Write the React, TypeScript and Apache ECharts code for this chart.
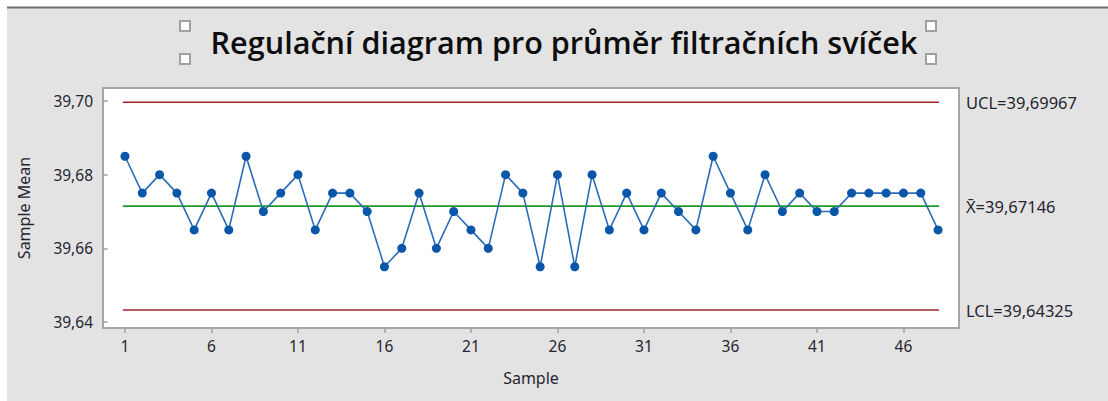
import React, { useEffect, useRef } from "react";
import * as echarts from "echarts";

const titleText = "Regulační diagram pro průměr filtračních svíček";
const sampleMeans = [
  39.685, 39.675, 39.68, 39.675, 39.665, 39.675, 39.665, 39.685, 39.67, 39.675,
  39.68, 39.665, 39.675, 39.675, 39.67, 39.655, 39.66, 39.675, 39.66, 39.67,
  39.665, 39.66, 39.68, 39.675, 39.655, 39.68, 39.655, 39.68, 39.665, 39.675,
  39.665, 39.675, 39.67, 39.665, 39.685, 39.675, 39.665, 39.68, 39.67, 39.675,
  39.67, 39.67, 39.675, 39.675, 39.675, 39.675, 39.675, 39.665,
];
const UCL = 39.69967;
const CL = 39.67146;
const LCL = 39.64325;
const limitStart = 0.88;
const limitEnd = 48.05;
const xTicks = [1, 6, 11, 16, 21, 26, 31, 36, 41, 46];
const yTicks = [39.64, 39.66, 39.68, 39.7];

const FONT = "'Noto Sans', 'Open Sans', sans-serif";
const TXT = "#262630";

export default function App() {
  const ref = useRef<HTMLDivElement>(null);
  useEffect(() => {
    if (!ref.current) return;
    const chart = echarts.init(ref.current, undefined, { renderer: "svg" });
    const fmt = (v: number) => v.toFixed(2).replace(".", ",");
    const limitSeries = (name: string, val: number, color: string, label: string) => ({
      name,
      type: "line",
      data: [
        [limitStart, val],
        [limitEnd, val],
      ],
      symbol: "none",
      lineStyle: { color, width: 1.6 },
      endLabel: {
        show: true,
        distance: 27,
        formatter: label,
        color: TXT,
        fontFamily: FONT,
        fontSize: 16.5,
      },
      z: 2,
      silent: true,
    });
    const sq = (x: number, y: number) => ({
      type: "rect",
      shape: { x, y, width: 10, height: 10 },
      style: { fill: "#ffffff", stroke: "#a0a0a0", lineWidth: 2 },
    });
    chart.setOption({
      animation: false,
      backgroundColor: "#ffffff",
      graphic: [
        {
          type: "rect",
          shape: { x: 7, y: 7, width: 1101, height: 394 },
          style: { fill: "#e3e3e3" },
          z: -10,
        },
        {
          type: "line",
          shape: { x1: 7, y1: 7.5, x2: 1108, y2: 7.5 },
          style: { stroke: "#6e6e6e", lineWidth: 2 },
          z: -9,
        },
        sq(180, 21),
        sq(180, 54),
        sq(926, 21),
        sq(926, 54),
      ],
      title: {
        text: titleText,
        left: 559,
        textAlign: "center",
        top: 21,
        textStyle: {
          fontFamily: "'Open Sans', 'Noto Sans', sans-serif",
          fontSize: 30.6,
          fontWeight: 600,
          color: "#0d0d0d",
        },
      },
      grid: {
        left: 103,
        right: 149,
        top: 88,
        bottom: 73,
        show: true,
        backgroundColor: "#ffffff",
        borderColor: "#a6a6a6",
        borderWidth: 2,
      },
      xAxis: {
        type: "value",
        min: -0.27,
        max: 49.21,
        name: "Sample",
        nameLocation: "middle",
        nameGap: 42,
        nameTextStyle: { fontFamily: FONT, fontSize: 16, color: TXT },
        axisLine: { show: false },
        splitLine: { show: false },
        axisTick: {
          show: true,
          length: 5,
          customValues: xTicks,
          lineStyle: { color: "#a0a0a0", width: 1.5 },
        },
        axisLabel: {
          customValues: xTicks,
          fontFamily: FONT,
          fontSize: 15.5,
          color: TXT,
          margin: 10,
        },
      },
      yAxis: {
        type: "value",
        min: 39.63837,
        max: 39.70353,
        name: "Sample Mean",
        nameLocation: "middle",
        nameGap: 71,
        nameRotate: 90,
        nameTextStyle: { fontFamily: FONT, fontSize: 16, color: TXT },
        axisLine: { show: false },
        splitLine: { show: false },
        axisTick: {
          show: true,
          length: 5,
          customValues: yTicks,
          lineStyle: { color: "#a0a0a0", width: 1.5 },
        },
        axisLabel: {
          customValues: yTicks,
          formatter: fmt,
          fontFamily: FONT,
          fontSize: 15.5,
          color: TXT,
          margin: 10,
        },
      },
      series: [
        limitSeries("UCL", UCL, "#a3222a", "UCL=39,69967"),
        limitSeries("CL", CL, "#1f9a2a", "X\u0304=39,67146"),
        limitSeries("LCL", LCL, "#a3222a", "LCL=39,64325"),
        {
          name: "Mean",
          type: "line",
          data: sampleMeans.map((v, i) => [i + 1, v]),
          symbol: "circle",
          symbolSize: 9,
          itemStyle: { color: "#0a56a8" },
          lineStyle: { color: "#2a6cb8", width: 1.6 },
          z: 5,
        },
      ],
    });
    return () => chart.dispose();
  }, []);
  return (
    <div
      ref={ref}
      style={{ position: "fixed", left: 0, top: 0, width: 1108, height: 401 }}
    />
  );
}
